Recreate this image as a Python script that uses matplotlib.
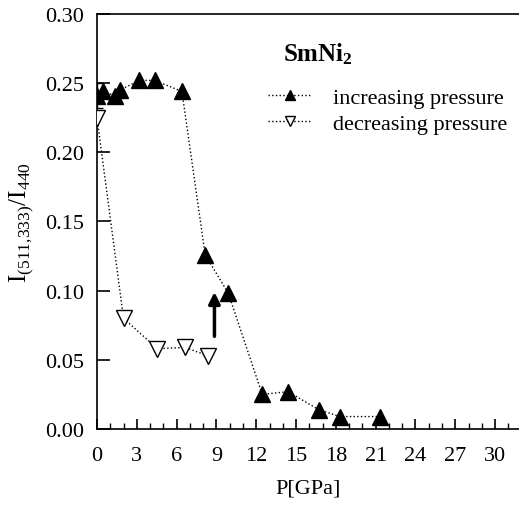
import numpy as np
import matplotlib
matplotlib.use('Agg')
import matplotlib.pyplot as plt
from matplotlib.ticker import MultipleLocator

plt.rcParams['font.family'] = ['Liberation Serif', 'DejaVu Serif']
plt.rcParams['mathtext.fontset'] = 'custom'
plt.rcParams['mathtext.rm'] = 'Liberation Serif'
plt.rcParams['mathtext.bf'] = 'Liberation Serif:bold'

# increasing pressure (filled up-triangles)
p_inc = [0.0, 0.45, 1.35, 1.7, 3.2, 4.35, 6.4, 8.15, 9.9, 12.45, 14.4, 16.7, 18.3, 21.3]
r_inc = [0.241, 0.244, 0.241, 0.245, 0.252, 0.252, 0.244, 0.126, 0.098, 0.025, 0.027, 0.014, 0.009, 0.009]
err_inc = [0.009, 0, 0, 0, 0, 0, 0, 0, 0, 0, 0, 0, 0, 0]

# decreasing pressure (open down-triangles)
p_dec = [0.0, 2.0, 4.55, 6.6, 8.35]
r_dec = [0.225, 0.080, 0.058, 0.059, 0.053]

xticks = [0, 3, 6, 9, 12, 15, 18, 21, 24, 27, 30]
yticks = [0.00, 0.05, 0.10, 0.15, 0.20, 0.25, 0.30]

fig = plt.figure(figsize=(5.19, 5.06), dpi=100)
ax = fig.add_axes([97 / 519, 1 - 430 / 506, 1 - 97 / 519, 415 / 506])

ax.errorbar(p_inc[:1], r_inc[:1], yerr=err_inc[:1], fmt='none', ecolor='k',
            capsize=4, elinewidth=1, zorder=2)
l1, = ax.plot(p_inc, r_inc, '^:', color='k', ms=11, lw=1,
              label='increasing pressure', zorder=3)
l2, = ax.plot(p_dec, r_dec, 'v:', color='k', mfc='white', mec='k', ms=11, lw=1,
              label='decreasing pressure', zorder=3)

ax.annotate('', xy=(8.85, 0.101), xytext=(8.85, 0.065),
            arrowprops=dict(arrowstyle='-|>', lw=2.5, color='k', mutation_scale=17))

ax.set_xlim(0, 31.8)
ax.set_ylim(0, 0.30)
ax.set_xticks(xticks)
ax.set_yticks(yticks)
ax.set_yticklabels(['%.2f' % v for v in yticks])
ax.xaxis.set_minor_locator(MultipleLocator(1))
ax.tick_params(axis='both', which='major', direction='in', labelsize=16, width=1.2)
ax.tick_params(axis='x', which='major', length=7, pad=12)
ax.tick_params(axis='y', which='major', length=9, pad=9)
ax.tick_params(axis='x', which='minor', direction='in', length=4, width=1)
ax.spines['right'].set_visible(False)
for s in ['left', 'bottom', 'top']:
    ax.spines[s].set_linewidth(1.2)

ax.set_xlabel('P[GPa]', fontsize=16)
ax.xaxis.set_label_coords(0.5, -0.12)
ax.set_ylabel(r'I$_{(511{,}333)}$/I$_{440}$', fontsize=18)
ax.yaxis.set_label_coords(-0.145, 0.5)

ax.text(0.44, 0.905, r'$\mathbf{SmNi_2}$', transform=ax.transAxes, fontsize=18,
        ha='left', va='center')

ax.legend(handles=[l1, l2], loc='upper left', bbox_to_anchor=(0.38, 0.85),
          frameon=False, fontsize=16, numpoints=1, markerscale=0.65,
          handlelength=1.9, handletextpad=1.0, labelspacing=0.25, borderpad=0)

fig.savefig('out.png', dpi=100)
